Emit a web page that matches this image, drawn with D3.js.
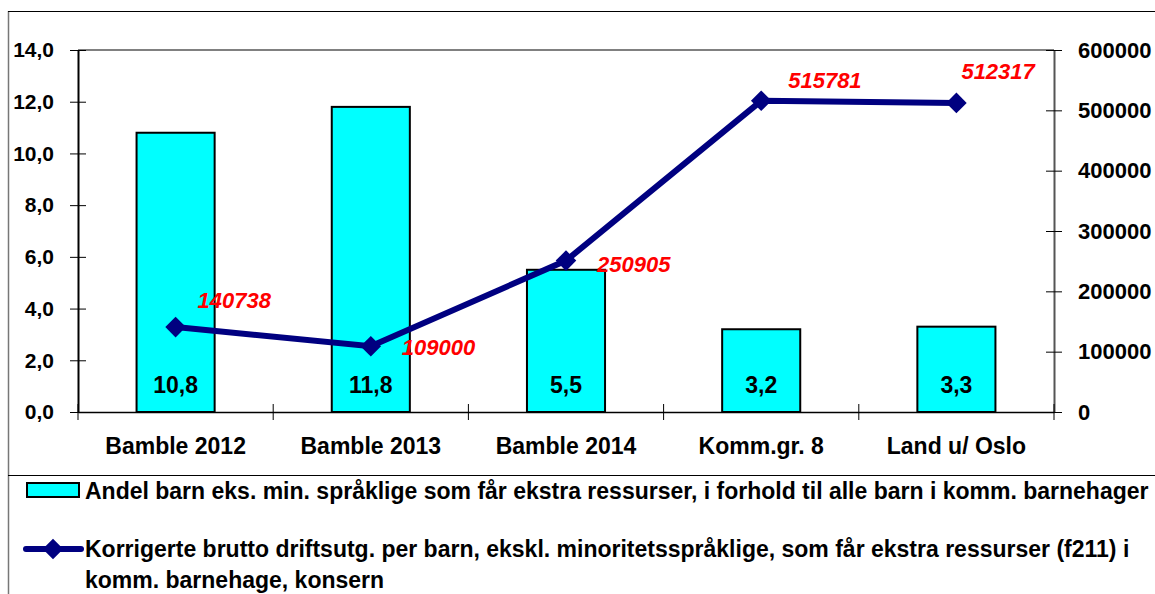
<!DOCTYPE html>
<html lang="no">
<head>
<meta charset="UTF-8">
<script src="https://cdnjs.cloudflare.com/ajax/libs/d3/7.8.5/d3.min.js"></script>
<style>
    body { margin: 0; background: #fff; }
    svg text { font-family: "Liberation Sans", Arial, sans-serif; font-weight: bold; }
</style>
</head>
<body>
<svg id="chart" width="1155" height="594"></svg>
<script>
    // data
    var categories = ['Bamble 2012', 'Bamble 2013', 'Bamble 2014', 'Komm.gr. 8', 'Land u/ Oslo'];
    var andelBarn = [10.8, 11.8, 5.5, 3.2, 3.3];
    var driftsutg = [140738, 109000, 250905, 515781, 512317];
    var leftTicks = [0, 2, 4, 6, 8, 10, 12, 14];
    var rightTicks = [0, 100000, 200000, 300000, 400000, 500000, 600000];
    var barLegend = 'Andel barn eks. min. språklige som får ekstra ressurser, i forhold til alle barn i komm. barnehager';
    var lineLegend = ['Korrigerte brutto driftsutg. per barn, ekskl. minoritetsspråklige, som får ekstra ressurser (f211) i',
                      'komm. barnehage, konsern'];

    // label placement next to each point (dx, dy)
    var labelOffset = [[22, -19], [31, 9], [31, 11], [27, -13], [5, -24]];

    var plotLeft = 78, plotRight = 1054, plotTop = 50, plotBottom = 412;
    var svg = d3.select('#chart');

    var x = d3.scaleBand().domain(categories).range([plotLeft, plotRight]);
    var yL = d3.scaleLinear().domain([0, 14]).range([plotBottom, plotTop]);
    var yR = d3.scaleLinear().domain([0, 600000]).range([plotBottom, plotTop]);
    var fmt = function(d) { return d3.format('.1f')(d).replace('.', ','); };

    // outer frame
    svg.append('line').attr('x1', 8.5).attr('x2', 8.5).attr('y1', 11).attr('y2', 594)
        .attr('stroke', '#777').attr('stroke-width', 1.5);
    svg.append('line').attr('x1', 8).attr('x2', 1155).attr('y1', 11.5).attr('y2', 11.5)
        .attr('stroke', '#000').attr('stroke-width', 1);
    svg.append('line').attr('x1', 8).attr('x2', 1155).attr('y1', 475.5).attr('y2', 475.5)
        .attr('stroke', '#000').attr('stroke-width', 1);

    // plot top border
    svg.append('line').attr('x1', plotLeft).attr('x2', plotRight).attr('y1', plotTop).attr('y2', plotTop)
        .attr('stroke', '#808080').attr('stroke-width', 2);

    // bars
    var barW = x.bandwidth() * 0.4;
    svg.selectAll('.bar').data(andelBarn).enter().append('rect')
        .attr('class', 'bar')
        .attr('x', function(d, i) { return x(categories[i]) + (x.bandwidth() - barW) / 2; })
        .attr('y', function(d) { return yL(d); })
        .attr('width', barW)
        .attr('height', function(d) { return plotBottom - yL(d); })
        .attr('fill', '#00ffff')
        .attr('stroke', '#000')
        .attr('stroke-width', 2);

    // axes
    var axL = svg.append('g').attr('transform', 'translate(' + plotLeft + ',0)')
        .call(d3.axisLeft(yL).tickValues(leftTicks).tickFormat(fmt).tickSizeInner(8).tickSizeOuter(0));
    axL.selectAll('.tick line').attr('x2', 8).attr('x1', -8);
    axL.select('.domain').attr('stroke-width', 2);
    axL.selectAll('text').attr('x', -24).attr('font-size', 21).attr('fill', '#000');

    var axR = svg.append('g').attr('transform', 'translate(' + plotRight + ',0)')
        .call(d3.axisRight(yR).tickValues(rightTicks).tickFormat(d3.format('d')).tickSizeInner(8).tickSizeOuter(0));
    axR.selectAll('.tick line').attr('x1', -8).attr('x2', 8);
    axR.select('.domain').attr('stroke', '#555').attr('stroke-width', 2);
    axR.selectAll('text').attr('x', 24).attr('font-size', 22).attr('fill', '#000');

    var axB = svg.append('g').attr('transform', 'translate(0,' + plotBottom + ')')
        .call(d3.axisBottom(x).tickSize(0).tickPadding(26));
    axB.select('.domain').attr('stroke', '#000').attr('stroke-width', 1.5);
    axB.selectAll('text').attr('font-size', 23).attr('fill', '#000');
    svg.selectAll('.cat-tick').data(categories.concat([null])).enter().append('line')
        .attr('x1', function(d, i) { return plotLeft + i * x.step(); })
        .attr('x2', function(d, i) { return plotLeft + i * x.step(); })
        .attr('y1', plotBottom - 8).attr('y2', plotBottom + 8)
        .attr('stroke', '#000').attr('stroke-width', 1);

    // bar value labels
    svg.selectAll('.barlabel').data(andelBarn).enter().append('text')
        .attr('x', function(d, i) { return x(categories[i]) + x.bandwidth() / 2; })
        .attr('y', plotBottom - 19)
        .attr('text-anchor', 'middle')
        .attr('font-size', 23)
        .text(fmt);

    // line
    var cx = function(d, i) { return x(categories[i]) + x.bandwidth() / 2; };
    var line = d3.line().x(cx).y(function(d) { return yR(d); });
    svg.append('path').datum(driftsutg)
        .attr('d', line)
        .attr('fill', 'none')
        .attr('stroke', '#000080')
        .attr('stroke-width', 6);

    var diamond = d3.symbol().type(d3.symbolDiamond2).size(270);
    svg.selectAll('.pt').data(driftsutg).enter().append('path')
        .attr('d', diamond)
        .attr('transform', function(d, i) { return 'translate(' + cx(d, i) + ',' + yR(d) + ')'; })
        .attr('fill', '#000080');

    svg.selectAll('.linelabel').data(driftsutg).enter().append('text')
        .attr('x', function(d, i) { return cx(d, i) + labelOffset[i][0]; })
        .attr('y', function(d, i) { return yR(d) + labelOffset[i][1]; })
        .attr('font-size', 22)
        .attr('font-style', 'italic')
        .attr('fill', '#ff0000')
        .text(function(d) { return d; });

    // legend
    svg.append('rect').attr('x', 27).attr('y', 483).attr('width', 52).attr('height', 14)
        .attr('fill', '#00ffff').attr('stroke', '#000').attr('stroke-width', 2);
    svg.append('text').attr('x', 85).attr('y', 499).attr('font-size', 23).text(barLegend);

    svg.append('line').attr('x1', 26).attr('x2', 81).attr('y1', 549).attr('y2', 549)
        .attr('stroke', '#000080').attr('stroke-width', 6).attr('stroke-linecap', 'round');
    svg.append('path').attr('d', diamond).attr('transform', 'translate(53,549)').attr('fill', '#000080');
    svg.append('text').attr('x', 85).attr('y', 557).attr('font-size', 23).text(lineLegend[0]);
    svg.append('text').attr('x', 85).attr('y', 588).attr('font-size', 23).text(lineLegend[1]);
</script>
</body>
</html>
